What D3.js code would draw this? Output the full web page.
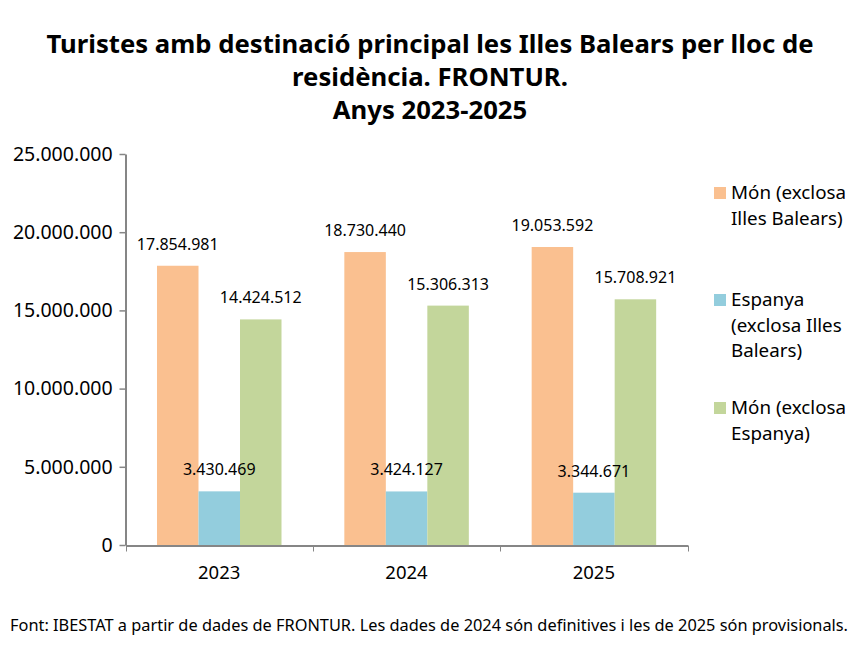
<!DOCTYPE html>
<html>
<head>
<meta charset="utf-8">
<script src="https://cdn.jsdelivr.net/npm/d3@7"></script>
<style>
  body { margin: 0; background: #fff; }
  svg { font-family: "Noto Sans", "Open Sans", sans-serif; }
</style>
</head>
<body>
<svg width="867" height="653"></svg>
<script>
var width = 867;
var height = 653;

var years = ["2023", "2024", "2025"];
var seriesNames = ["Món (exclosa Illes Balears)", "Espanya (exclosa Illes Balears)", "Món (exclosa Espanya)"];
var legendLines = [["Món (exclosa", "Illes Balears)"], ["Espanya", "(exclosa Illes", "Balears)"], ["Món (exclosa", "Espanya)"]];
var monExclIB = [17854981, 18730440, 19053592];
var espanya = [3430469, 3424127, 3344671];
var monExclEsp = [14424512, 15306313, 15708921];
var colors = ["#FAC090", "#93CDDD", "#C3D69B"];
var yTicks = [0, 5000000, 10000000, 15000000, 20000000, 25000000];

var series = [monExclIB, espanya, monExclEsp];

var fmt = d => d3.format(",")(d).replace(/,/g, ".");

var svg = d3.select("svg");

// title
var titleLines = ["Turistes amb destinació principal les Illes Balears per lloc de", "residència. FRONTUR.", "Anys 2023-2025"];
svg.selectAll("text.title")
   .data(titleLines)
   .enter()
   .append("text")
     .attr("class", "title")
     .attr("x", 430)
     .attr("y", (d, i) => 53 + i * 33)
     .attr("text-anchor", "middle")
     .attr("font-size", 25.7)
     .attr("font-weight", "bold")
     .text(d => d);

var x0 = d3.scaleBand().domain(years).range([125.5, 687.5]);
var x1 = d3.scaleBand().domain([0, 1, 2]).range([31.5, 187.5 - 31.5]);
var y = d3.scaleLinear().domain([0, 25000000]).range([545, 154]);

// y axis
var yAxis = svg.append("g")
   .attr("transform", "translate(125.5,0)")
   .call(d3.axisLeft(y).tickValues(yTicks).tickFormat(fmt).tickSize(6).tickSizeOuter(0));
yAxis.selectAll("text").attr("font-size", 19.5).attr("fill", "#000").attr("font-family", "Noto Sans").attr("dx", "-0.2em");

// bars
var groups = svg.selectAll("g.year")
   .data(years)
   .enter()
   .append("g")
     .attr("class", "year")
     .attr("transform", d => "translate(" + x0(d) + ",0)");

groups.each(function(yr, yi) {
  var g = d3.select(this);
  series.forEach(function(s, si) {
    g.append("rect")
      .attr("x", x1(si))
      .attr("width", x1.bandwidth())
      .attr("y", y(s[yi]))
      .attr("height", y(0) - y(s[yi]))
      .attr("fill", colors[si]);
  });
});

// value labels on top of all bars
groups.each(function(yr, yi) {
  var g = d3.select(this);
  series.forEach(function(s, si) {
    g.append("text")
      .attr("x", x1(si) + x1.bandwidth() / 2)
      .attr("y", y(s[yi]) - 16)
      .attr("text-anchor", "middle")
      .attr("font-size", 16)
      .text(fmt(s[yi]));
  });
});

// x axis
var xAxis = svg.append("g")
   .attr("transform", "translate(0,545.5)")
   .call(d3.axisBottom(x0).tickSize(0).tickPadding(20));
xAxis.selectAll("text").attr("font-size", 18.5).attr("fill", "#000").attr("font-family", "Noto Sans");
xAxis.selectAll(".sep")
   .data([125.5, 312.5, 500, 687.5])
   .enter()
   .append("line")
     .attr("x1", d => Math.round(d) + 0.5)
     .attr("x2", d => Math.round(d) + 0.5)
     .attr("y1", 0)
     .attr("y2", 6)
     .attr("stroke", "#868686");

svg.selectAll(".domain").attr("stroke", "#868686").attr("stroke-width", 2);
svg.selectAll(".tick line").attr("stroke", "#868686").attr("stroke-width", 1.5);

// legend
var legendTop = [193, 300, 408];
legendLines.forEach(function(lines, i) {
  svg.append("rect")
    .attr("x", 714)
    .attr("y", legendTop[i] - 6)
    .attr("width", 12)
    .attr("height", 12)
    .attr("fill", colors[i]);
  lines.forEach(function(line, li) {
    svg.append("text")
      .attr("x", 731)
      .attr("y", legendTop[i] + 6 + li * 25.5)
      .attr("font-size", 18.8)
      .text(line);
  });
});

// footer
svg.append("text")
   .attr("x", 10)
   .attr("y", 631)
   .attr("font-size", 16)
   .attr("textLength", 838)
   .attr("lengthAdjust", "spacingAndGlyphs")
   .text("Font: IBESTAT a partir de dades de FRONTUR. Les dades de 2024 són definitives i les de 2025 són provisionals.");
</script>
</body>
</html>
